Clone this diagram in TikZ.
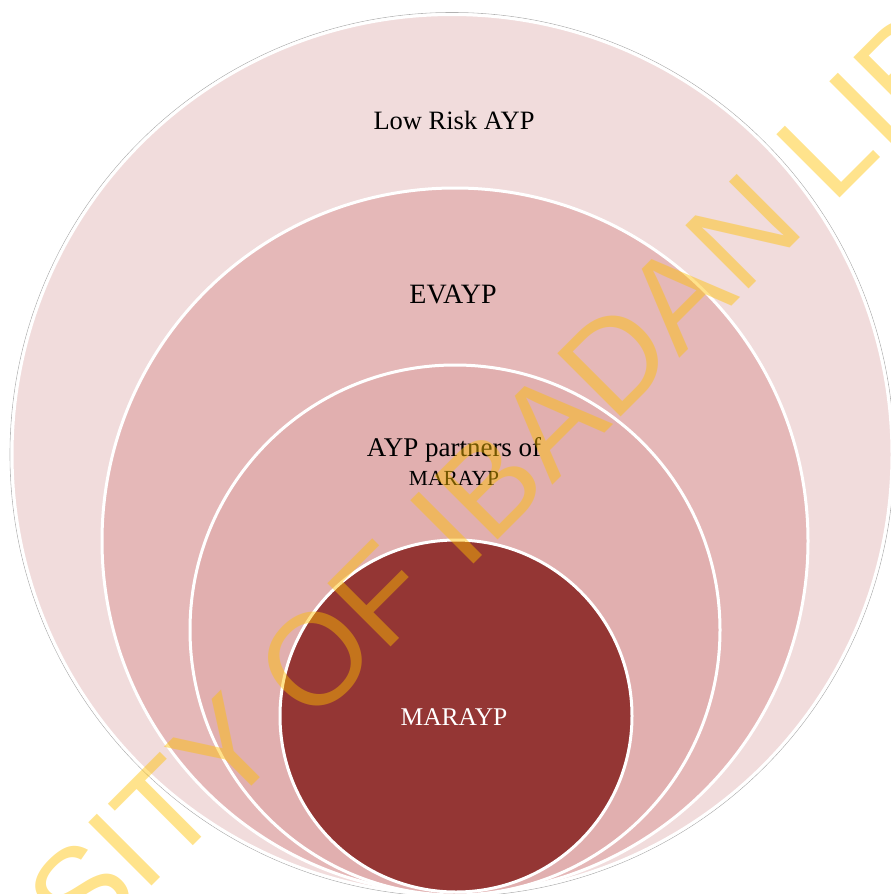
\documentclass[tikz,border=0pt]{standalone}
\usepackage{fontspec}
\setmainfont{Liberation Serif}
\newfontfamily\wmfont{Liberation Sans}
\definecolor{ringA}{RGB}{241,220,220}
\definecolor{ringB}{RGB}{229,184,184}
\definecolor{ringC}{RGB}{225,175,175}
\definecolor{ringD}{RGB}{148,54,52}
\definecolor{wmyellow}{RGB}{255,192,0}
\begin{document}
\begin{tikzpicture}[x=1pt,y=1pt,
  ring/.style={draw=white,line width=3pt},
  lbl/.style={inner sep=0pt,font=\fontsize{26.5}{28}\selectfont},
  wm/.style={inner sep=0pt,anchor=base west,rotate=45,text=wmyellow,text opacity=0.45,font=\wmfont\fontsize{130}{130}\selectfont}]
\useasboundingbox (0,0) rectangle (891,-894);
\clip (0,0) rectangle (891,-894);
% outer thin grey outline
\draw[gray!60,line width=0.6pt] (452,-454.5) circle (442);
\fill[ringA] (452,-454.5) circle (440);
\draw[ring] (452,-454.5) circle (440);
\fill[ringB] (455,-541) circle (353);
\draw[ring] (455,-541) circle (353);
\fill[ringC] (455,-630) circle (265);
\draw[ring] (455,-630) circle (265);
\fill[ringD] (456,-716) circle (176);
\draw[ring] (456,-716) circle (176);
% labels
\node[lbl] (low) at (454,-120) {Low Risk AYP};
\node[lbl,font=\fontsize{28}{30}\selectfont] (ev) at (453,-294) {EVAYP};
\node[lbl,font=\fontsize{27}{29}\selectfont] (part) at (454,-450) {AYP partners of};
\node[lbl,font=\fontsize{21.5}{23}\selectfont] (partb) at (454,-478) {MARAYP};
\node[lbl,text=white,font=\fontsize{25.5}{27}\selectfont] (mar) at (454,-717) {MARAYP};
% watermark
\node[wm] (wmark) at (82,-956) {SITY OF IBADAN LIB};
\end{tikzpicture}
\end{document}
